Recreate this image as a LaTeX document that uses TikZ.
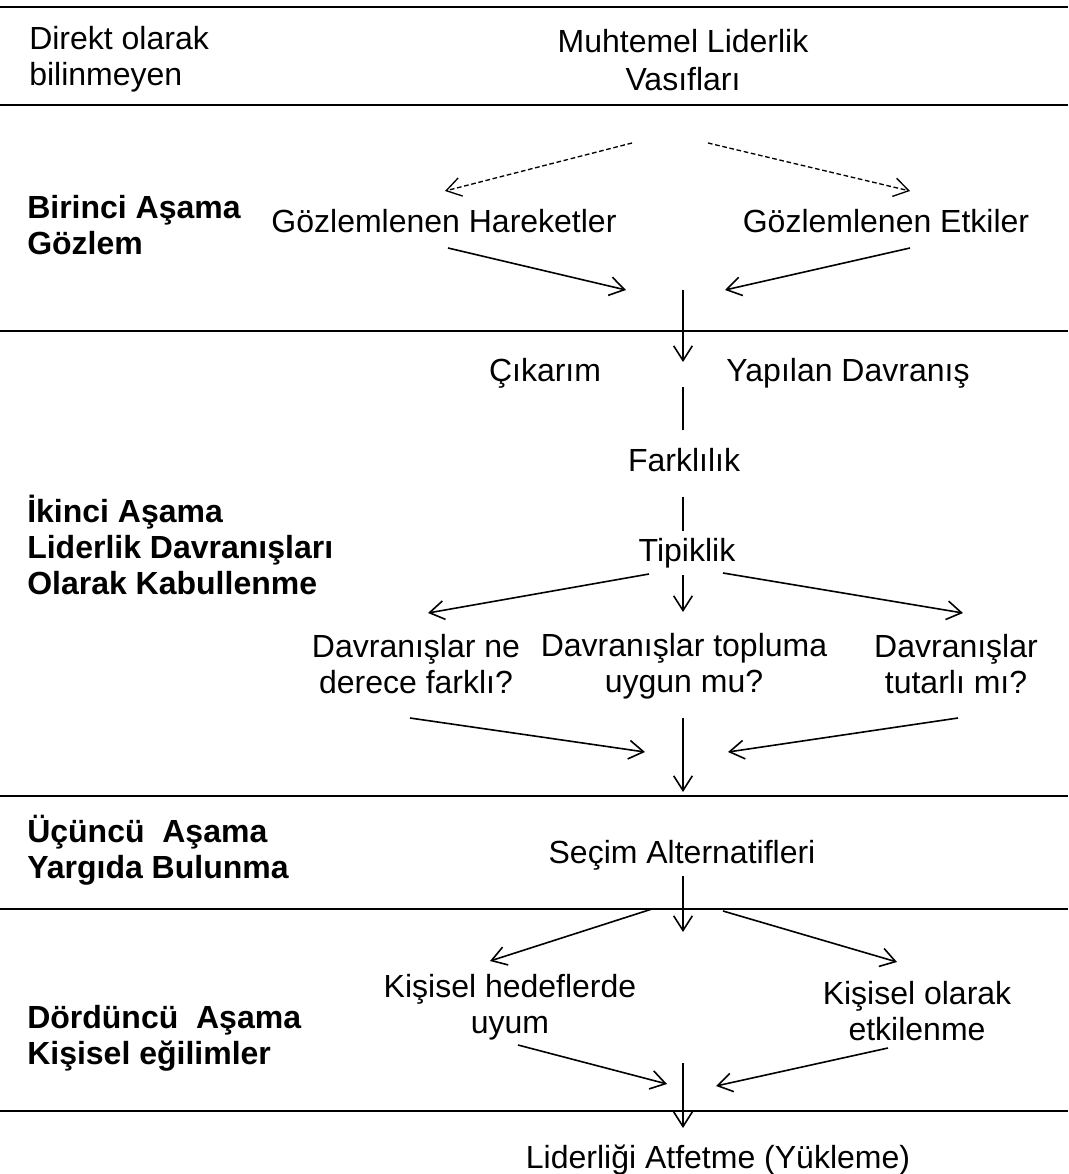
\documentclass[tikz,border=0pt]{standalone}
\usepackage{fontspec}
\setmainfont{Liberation Sans}
\usetikzlibrary{arrows.meta}

\tikzstyle{note} = [align=left,anchor=west,inner sep=0pt,font=\fontsize{24}{27}\selectfont]
\tikzstyle{stage} = [note,font=\fontsize{24}{27}\selectfont\bfseries]
\tikzstyle{factor} = [align=center,inner sep=0pt,font=\fontsize{24}{27}\selectfont]
\tikzstyle{flow} = [line width=1.2pt,-{Straight Barb[length=11pt,width=14pt]}]
\tikzstyle{link} = [line width=1.2pt]
\tikzstyle{guess} = [flow,line width=1pt,dash pattern=on 3.5pt off 2pt]
\tikzstyle{rule} = [line width=1.5pt]

\begin{document}
\begin{tikzpicture}[x=0.75pt,y=-0.75pt]
	\useasboundingbox (0,0) rectangle (1068,1174);
	% section rules
	\foreach \y in {7,331,796,909,1111}
		\draw [rule] (0,\y) -- (1068,\y);
	\draw [rule,line width=2.2pt] (0,105) -- (1068,105);
	% left column
	\node (unknown) [note] at (29,59) {Direkt olarak\\bilinmeyen};
	\node (s1) [stage] at (27,225) {Birinci Aşama\\Gözlem};
	\node (s2) [stage] at (27,545) {İkinci Aşama\\Liderlik Davranışları\\Olarak Kabullenme};
	\node (s3) [stage] at (27,850) {Üçüncü\ \ Aşama\\Yargıda Bulunma};
	\node (s4) [stage] at (27,1038) {Dördüncü\ \ Aşama\\Kişisel eğilimler};
	% flow
	\node (traits) [factor,font=\fontsize{24}{28}\selectfont] at (683,60) {Muhtemel Liderlik\\Vasıfları};
	\node (acts) [factor] at (444,221) {Gözlemlenen Hareketler};
	\node (effects) [factor] at (886,221) {Gözlemlenen Etkiler};
	\node (infer) [factor] at (545,373) {Çıkarım};
	\node (done) [factor] at (848,373) {Yapılan Davranış};
	\node (diff) [factor] at (684,460) {Farklılık};
	\node (typ) [factor] at (687,553) {Tipiklik};
	\node (q1) [factor] at (416,664) {Davranışlar ne\\derece farklı?};
	\node (q2) [factor] at (684,666) {Davranışlar topluma\\uygun mu?};
	\node (q3) [factor] at (956,664) {Davranışlar\\tutarlı mı?};
	\node (choice) [factor] at (682,855) {Seçim Alternatifleri};
	\node (goals) [factor] at (510,1007) {Kişisel hedeflerde\\uyum};
	\node (affect) [factor] at (917,1011) {Kişisel olarak\\etkilenme};
	\node (attr) [factor] at (718,1160) {Liderliği Atfetme (Yükleme)};
	% connector ends
	\coordinate (traits-l) at (632,143);
	\coordinate (traits-r) at (708,143);
	\coordinate (acts-in) at (445,191);
	\coordinate (effects-in) at (910,191);
	\coordinate (acts-out) at (448,248);
	\coordinate (effects-out) at (910,248);
	\coordinate (obs-l) at (626,290);
	\coordinate (obs-r) at (725,290);
	\coordinate (obs) at (683,290);
	\coordinate (obs-end) at (683,362);
	\coordinate (diff-in) at (683,387);
	\coordinate (diff-top) at (683,430);
	\coordinate (diff-out) at (683,497);
	\coordinate (typ-top) at (683,531);
	\coordinate (typ-l) at (649,574);
	\coordinate (typ-c) at (683,575);
	\coordinate (typ-r) at (723,573);
	\coordinate (q1-in) at (428,613);
	\coordinate (q2-in) at (683,612);
	\coordinate (q3-in) at (963,613);
	\coordinate (q1-out) at (410,718);
	\coordinate (q2-out) at (683,718);
	\coordinate (q3-out) at (958,718);
	\coordinate (acc-l) at (645,752);
	\coordinate (acc-r) at (728,752);
	\coordinate (acc-end) at (683,792);
	\coordinate (choice-out) at (683,876);
	\coordinate (choice-end) at (683,932);
	\coordinate (choice-l) at (652,909);
	\coordinate (choice-r) at (723,911);
	\coordinate (goals-in) at (490,961);
	\coordinate (affect-in) at (897,962);
	\coordinate (goals-out) at (518,1045);
	\coordinate (affect-out) at (888,1048);
	\coordinate (pers-l) at (667,1084);
	\coordinate (pers-r) at (716,1086);
	\coordinate (pers) at (683,1063);
	\coordinate (attr-in) at (683,1128);
	% connectors
	\draw [guess] (traits-l) -- (acts-in);
	\draw [guess] (traits-r) -- (effects-in);
	\draw [flow] (acts-out) -- (obs-l);
	\draw [flow] (effects-out) -- (obs-r);
	\draw [flow] (obs) -- (obs-end);
	\draw [link] (diff-in) -- (diff-top);
	\draw [link] (diff-out) -- (typ-top);
	\draw [flow] (typ-l) -- (q1-in);
	\draw [flow] (typ-c) -- (q2-in);
	\draw [flow] (typ-r) -- (q3-in);
	\draw [flow] (q1-out) -- (acc-l);
	\draw [flow] (q3-out) -- (acc-r);
	\draw [flow] (q2-out) -- (acc-end);
	\draw [flow] (choice-out) -- (choice-end);
	\draw [flow] (choice-l) -- (goals-in);
	\draw [flow] (choice-r) -- (affect-in);
	\draw [flow] (goals-out) -- (pers-l);
	\draw [flow] (affect-out) -- (pers-r);
	\draw [flow] (pers) -- (attr-in);
\end{tikzpicture}
\end{document}
